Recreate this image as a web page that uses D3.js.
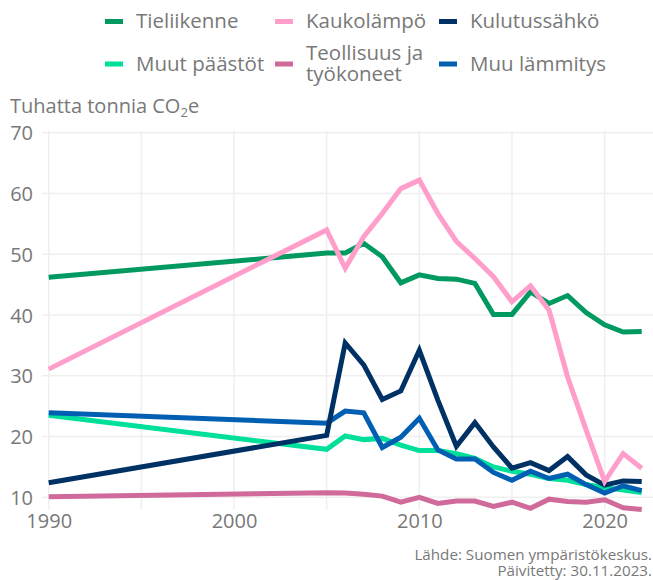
<!DOCTYPE html>
<html>
<head>
<meta charset="utf-8">
<script src="https://cdn.jsdelivr.net/npm/d3@7"></script>
<style>
  html, body { margin: 0; padding: 0; background: #fff; }
  svg { display: block; font-family: "Open Sans", "Lato", sans-serif; }
</style>
</head>
<body>
<svg id="chart" width="653" height="580"></svg>
<script>
// Years with observations: 1990 and then annually 2005–2022
const years = [1990, 2005, 2006, 2007, 2008, 2009, 2010, 2011, 2012, 2013,
  2014, 2015, 2016, 2017, 2018, 2019, 2020, 2021, 2022];

// Emissions by sector, thousand tonnes CO2e
const tieliikenne = [46.2, 50.2, 50.2, 51.8, 49.6, 45.3, 46.6, 46.0, 45.9, 45.2,
  40.1, 40.1, 43.8, 41.9, 43.2, 40.4, 38.4, 37.2, 37.3];
const kaukolampo = [31.1, 54.0, 47.7, 52.9, 56.7, 60.8, 62.2, 56.7, 52.1, 49.3,
  46.3, 42.2, 44.8, 40.8, 29.8, 21.1, 12.6, 17.2, 14.8];
const kulutussahko = [12.4, 20.2, 35.4, 31.8, 26.1, 27.5, 34.2, 26.0, 18.4, 22.3,
  18.3, 14.8, 15.7, 14.4, 16.7, 13.7, 12.0, 12.7, 12.6];
const muutPaastot = [23.5, 17.9, 20.1, 19.5, 19.7, 18.6, 17.7, 17.7, 17.2, 16.4,
  15.0, 14.3, 13.8, 13.1, 12.8, 12.1, 11.6, 11.2, 10.8];
const teollisuus = [10.1, 10.75, 10.7, 10.5, 10.2, 9.2, 10.0, 9.0, 9.4, 9.4,
  8.5, 9.2, 8.2, 9.7, 9.3, 9.2, 9.6, 8.3, 8.0];
const muuLammitys = [23.9, 22.2, 24.2, 23.9, 18.2, 19.9, 23.0, 17.8, 16.3, 16.3,
  14.1, 12.8, 14.3, 13.1, 13.8, 12.1, 10.7, 11.9, 11.1];

const yTicks = [10, 20, 30, 40, 50, 60, 70];
const xTicks = [1990, 2000, 2010, 2020];
const xGrid = [1990, 1995, 2000, 2005, 2010, 2015, 2020];

// Legend order (row by row) and drawing order of the lines
const series = [
  { name: ["Tieliikenne"], values: tieliikenne, color: "#00995f" },
  { name: ["Kaukolämpö"], values: kaukolampo, color: "#ff9dcb" },
  { name: ["Kulutussähkö"], values: kulutussahko, color: "#003164" },
  { name: ["Muut päästöt"], values: muutPaastot, color: "#00e09a" },
  { name: ["Teollisuus ja", "työkoneet"], values: teollisuus, color: "#cf6a9a" },
  { name: ["Muu lämmitys"], values: muuLammitys, color: "#005fb2" }
];
const drawOrder = [4, 3, 5, 2, 0, 1];

const svg = d3.select("#chart");
const textColor = "#787878";
const font = "'Open Sans', sans-serif";

const x = d3.scaleLinear().domain([1990, 2022]).range([48.7, 641.7]);
const y = d3.scaleLinear().domain([8, 70]).range([509.5, 132.7]);

// Grid
const grid = svg.append("g");
grid.selectAll("line.h").data(yTicks).join("line")
  .attr("x1", 42).attr("x2", 653)
  .attr("y1", d => y(d)).attr("y2", d => y(d))
  .attr("stroke", "#efefef").attr("stroke-width", 1.5);
grid.selectAll("line.v").data(xGrid).join("line")
  .attr("x1", d => x(d)).attr("x2", d => x(d))
  .attr("y1", y(70) - 2).attr("y2", y(8))
  .attr("stroke", "#efefef").attr("stroke-width", 1.5);

// Y axis labels
const yAxis = d3.axisLeft(y).tickValues(yTicks).tickSize(0).tickPadding(0);
const yg = svg.append("g").attr("transform", "translate(33,0)").call(yAxis);
yg.select(".domain").remove();
yg.selectAll("text").attr("fill", textColor).attr("font-size", 20)
  .attr("font-family", font).attr("dy", "0.36em");

// X axis labels
const xAxis = d3.axisBottom(x).tickValues(xTicks).tickFormat(d3.format("d")).tickSize(0).tickPadding(0);
const xg = svg.append("g").attr("transform", "translate(0,514)").call(xAxis);
xg.select(".domain").remove();
xg.selectAll("text").attr("fill", textColor).attr("font-size", 20)
  .attr("font-family", font).attr("dy", "0.71em");

// Lines
const line = d3.line().x((d, i) => x(years[i])).y(d => y(d));
svg.append("g").selectAll("path").data(drawOrder.map(i => series[i])).join("path")
  .attr("d", s => line(s.values))
  .attr("fill", "none")
  .attr("stroke", s => s.color)
  .attr("stroke-width", 5)
  .attr("stroke-linejoin", "miter")
  .attr("stroke-linecap", "butt");

// Y axis title
const title = svg.append("text").attr("x", 10).attr("y", 113)
  .attr("fill", textColor).attr("font-size", 20);
title.append("tspan").text("Tuhatta tonnia CO");
title.append("tspan").text("2").attr("font-size", 13).attr("dy", 4);
title.append("tspan").text("e").attr("dy", -4);

// Legend
const legendCols = [105, 275, 439];
const legendRows = [21.5, 64];
const lg = svg.append("g");
series.forEach((s, i) => {
  const cx = legendCols[i % 3];
  const cy = legendRows[Math.floor(i / 3)];
  lg.append("rect").attr("x", cx).attr("y", cy - 2.5).attr("width", 18).attr("height", 5)
    .attr("fill", s.color);
  const t = lg.append("text").attr("x", cx + 31).attr("fill", textColor).attr("font-size", 20.5);
  const n = s.name.length;
  s.name.forEach((part, k) => {
    t.append("tspan").attr("x", cx + 31)
      .attr("y", cy + 6.5 + (k - (n - 1) / 2) * 21)
      .text(part);
  });
});

// Source note
const src = svg.append("text").attr("text-anchor", "end").attr("fill", textColor).attr("font-size", 15.2);
src.append("tspan").attr("x", 652).attr("y", 560).text("Lähde: Suomen ympäristökeskus.");
src.append("tspan").attr("x", 652).attr("y", 576).text("Päivitetty: 30.11.2023.");
</script>
</body>
</html>
